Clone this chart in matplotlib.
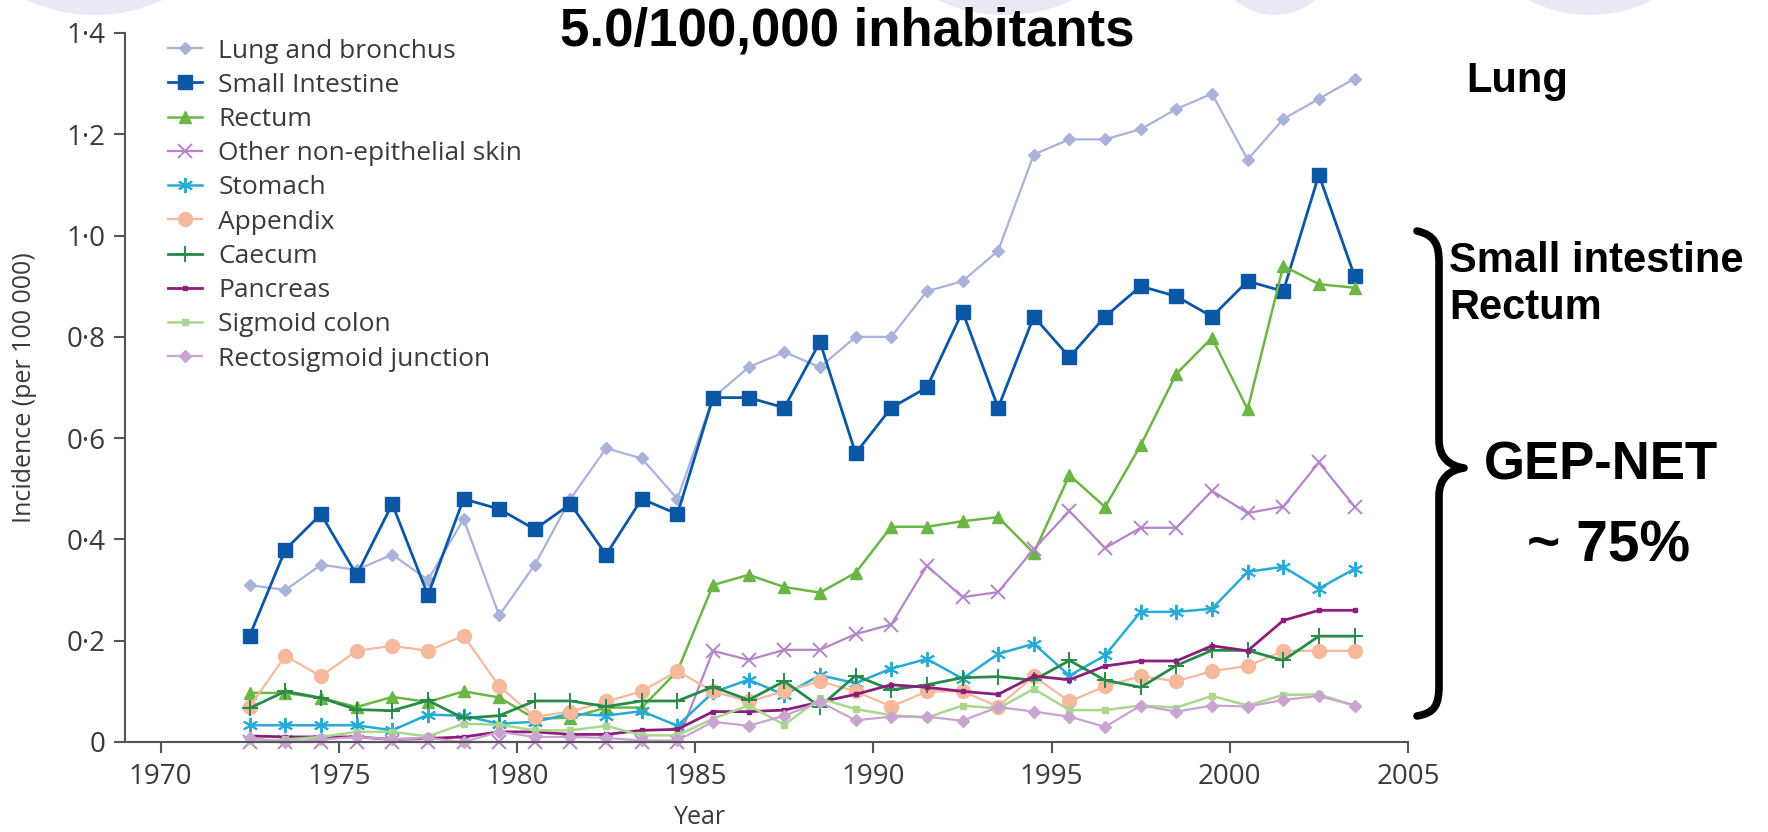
import matplotlib
matplotlib.use("Agg")
import matplotlib.pyplot as plt
from matplotlib.patches import Ellipse, PathPatch
from matplotlib.path import Path
from matplotlib.ticker import FixedLocator, FixedFormatter

# Incidence per 100 000, one value per year (plotted at mid-year)
years = [1972.5 + i for i in range(32)]

lung = [0.31, 0.30, 0.35, 0.34, 0.37, 0.32, 0.44, 0.25, 0.35, 0.48, 0.58, 0.56,
        0.48, 0.68, 0.74, 0.77, 0.74, 0.80, 0.80, 0.89, 0.91, 0.97, 1.16, 1.19,
        1.19, 1.21, 1.25, 1.28, 1.15, 1.23, 1.27, 1.31]
small_intestine = [0.21, 0.38, 0.45, 0.33, 0.47, 0.29, 0.48, 0.46, 0.42, 0.47, 0.37, 0.48,
                   0.45, 0.68, 0.68, 0.66, 0.79, 0.57, 0.66, 0.70, 0.85, 0.66, 0.84, 0.76,
                   0.84, 0.90, 0.88, 0.84, 0.91, 0.89, 1.12, 0.92]
rectum = [0.097, 0.097, 0.087, 0.069, 0.089, 0.079, 0.100, 0.088, 0.046, 0.048, 0.068, 0.068,
          0.140, 0.310, 0.330, 0.306, 0.295, 0.334, 0.425, 0.425, 0.436, 0.444, 0.373, 0.527,
          0.464, 0.586, 0.727, 0.798, 0.657, 0.940, 0.904, 0.897]
other_skin = [0.0, 0.0, 0.0, 0.0, 0.0, 0.0, 0.0, 0.0, 0.0, 0.0, 0.0, 0.0,
              0.0, 0.180, 0.162, 0.182, 0.182, 0.213, 0.232, 0.348, 0.286, 0.296, 0.381, 0.456,
              0.383, 0.423, 0.423, 0.496, 0.452, 0.465, 0.552, 0.465]
stomach = [0.033, 0.033, 0.033, 0.033, 0.023, 0.054, 0.052, 0.036, 0.040, 0.056, 0.052, 0.061,
           0.032, 0.098, 0.123, 0.093, 0.132, 0.116, 0.145, 0.164, 0.125, 0.174, 0.194, 0.131,
           0.171, 0.257, 0.257, 0.263, 0.336, 0.346, 0.303, 0.342]
appendix = [0.07, 0.17, 0.13, 0.18, 0.19, 0.18, 0.21, 0.11, 0.05, 0.06, 0.08, 0.10,
            0.14, 0.10, 0.08, 0.10, 0.12, 0.10, 0.07, 0.10, 0.10, 0.07, 0.13, 0.08,
            0.11, 0.13, 0.12, 0.14, 0.15, 0.18, 0.18, 0.18]
caecum = [0.067, 0.100, 0.087, 0.064, 0.062, 0.082, 0.047, 0.052, 0.081, 0.081, 0.070, 0.081,
          0.081, 0.109, 0.083, 0.120, 0.070, 0.131, 0.103, 0.113, 0.127, 0.129, 0.122, 0.161,
          0.122, 0.108, 0.151, 0.181, 0.181, 0.161, 0.209, 0.209]
pancreas = [0.012, 0.010, 0.010, 0.010, 0.005, 0.007, 0.010, 0.020, 0.020, 0.015, 0.015, 0.023,
            0.025, 0.060, 0.060, 0.063, 0.079, 0.094, 0.113, 0.108, 0.100, 0.094, 0.130, 0.123,
            0.150, 0.160, 0.160, 0.190, 0.180, 0.240, 0.260, 0.260]
sigmoid = [0.002, 0.005, 0.010, 0.020, 0.020, 0.011, 0.036, 0.034, 0.023, 0.023, 0.032, 0.013,
           0.013, 0.046, 0.072, 0.034, 0.086, 0.065, 0.053, 0.048, 0.072, 0.066, 0.105, 0.063,
           0.063, 0.072, 0.068, 0.091, 0.072, 0.093, 0.094, 0.072]
rectosigmoid = [0.008, 0.000, 0.005, 0.010, 0.005, 0.008, 0.000, 0.020, 0.010, 0.010, 0.008, 0.003,
                0.003, 0.040, 0.032, 0.052, 0.079, 0.043, 0.050, 0.050, 0.042, 0.069, 0.060, 0.050,
                0.030, 0.072, 0.060, 0.072, 0.070, 0.083, 0.091, 0.072]

labels = ["Lung and bronchus", "Small Intestine", "Rectum", "Other non-epithelial skin",
          "Stomach", "Appendix", "Caecum", "Pancreas", "Sigmoid colon", "Rectosigmoid junction"]
series = [lung, small_intestine, rectum, other_skin, stomach, appendix, caecum,
          pancreas, sigmoid, rectosigmoid]

y_ticks = [0, 0.2, 0.4, 0.6, 0.8, 1.0, 1.2, 1.4]
y_tick_labels = ["0", "0·2", "0·4", "0·6", "0·8", "1·0", "1·2", "1·4"]
x_ticks = [1970, 1975, 1980, 1985, 1990, 1995, 2000, 2005]

styles = [
    dict(color="#a9b2db", marker="D", ms=6, lw=1.6, mec="#a9b2db"),
    dict(color="#0b57a5", marker="s", ms=9.5, lw=2.0, mec="#0b57a5"),
    dict(color="#6bb644", marker="^", ms=8, lw=1.8, mec="#6bb644"),
    dict(color="#b584c9", marker="x", ms=10, lw=1.6, mew=1.4),
    dict(color="#28aad6", marker=(6, 2, 0), ms=11, lw=1.8, mew=1.4),
    dict(color="#f6b99c", marker="o", ms=10, lw=1.6, mec="#f6b99c"),
    dict(color="#278a48", marker="+", ms=12, lw=2.0, mew=1.4),
    dict(color="#8c1d7c", marker="s", ms=3.5, lw=2.0, mec="#8c1d7c"),
    dict(color="#a9d88c", marker="s", ms=4, lw=1.8, mec="#a9d88c"),
    dict(color="#c9a4d1", marker="D", ms=6, lw=1.6, mec="#c9a4d1"),
]

W, H = 1768, 832
fig = plt.figure(figsize=(W / 100, H / 100), dpi=100)
fig.patch.set_facecolor("white")

# faint decorative discs along the top edge
for cx, w in [(95, 250), (1005, 250), (1275, 150), (1590, 230)]:
    fig.patches.append(Ellipse((cx / W, 1 + 80 / H), w / W, 190 / H,
                               transform=fig.transFigure, facecolor="#eae8f6",
                               edgecolor="none", zorder=0))

ax = fig.add_axes([125 / W, 90 / H, (1408 - 125) / W, (742 - 33) / H])
ax.set_facecolor("none")

for vals, lab, st in zip(series, labels, styles):
    ax.plot(years, vals, label=lab, clip_on=False, **st)

ax.set_xlim(1969, 2005)
ax.set_ylim(0, 1.4)
for s in ["top", "right"]:
    ax.spines[s].set_visible(False)
for s in ["left", "bottom"]:
    ax.spines[s].set_color("#555555")
    ax.spines[s].set_linewidth(1.5)

ax.xaxis.set_major_locator(FixedLocator(x_ticks))
ax.yaxis.set_major_locator(FixedLocator(y_ticks))
ax.yaxis.set_major_formatter(FixedFormatter(y_tick_labels))
ax.tick_params(direction="out", length=8, width=1.5, color="#555555",
               labelcolor="#3a3a3a", labelsize=20)
ax.tick_params(axis="x", pad=7)
ax.tick_params(axis="y", pad=6)
for t in ax.get_xticklabels() + ax.get_yticklabels():
    t.set_fontfamily("Open Sans")

ax.set_xlabel("Year", fontsize=18, color="#3a3a3a", family="Open Sans")
ax.xaxis.set_label_coords((700 - 125) / (1408 - 125), -(817 - 742) / (742 - 33))
ax.xaxis.label.set_va("center")
ax.set_ylabel("Incidence (per 100 000)", fontsize=18, color="#3a3a3a", family="Open Sans")
ax.yaxis.set_label_coords(-(125 - 25) / (1408 - 125), 0.5)
ax.yaxis.label.set_va("center")

leg = ax.legend(loc="upper left", bbox_to_anchor=(168 / W, 1 - 38.5 / H),
                bbox_transform=fig.transFigure, frameon=False,
                prop={"family": "Open Sans", "size": 19}, labelcolor="#3a3a3a",
                handlelength=1.3, handletextpad=0.6, labelspacing=0.35,
                borderaxespad=0, borderpad=0)

bold = dict(family="Liberation Sans", weight="bold", color="black")
fig.text(847 / W, 1 - 32 / H, "5.0/100,000 inhabitants", fontsize=38,
         ha="center", va="center", **bold)
fig.text(1517 / W, 1 - 81 / H, "Lung", fontsize=30, ha="center", va="center", **bold)
fig.text(1449 / W, 1 - 261 / H, "Small intestine", fontsize=30, ha="left", va="center", **bold)
fig.text(1449 / W, 1 - 308 / H, "Rectum", fontsize=30, ha="left", va="center", **bold)
fig.text(1601 / W, 1 - 466 / H, "GEP-NET", fontsize=38, ha="center", va="center", **bold)
fig.text(1609 / W, 1 - 547 / H, "~ 75%", fontsize=41, ha="center", va="center", **bold)

# curly brace grouping the GEP-NET sites
pts_px = [
    (1417, 231), (1435, 235), (1439, 245), (1439, 262),
    (1439, 440),
    (1439, 458), (1450, 466), (1464, 468),
    (1450, 470), (1439, 478), (1439, 496),
    (1439, 685),
    (1439, 705), (1435, 713), (1417, 716),
]
codes = [Path.MOVETO, Path.CURVE4, Path.CURVE4, Path.CURVE4,
         Path.LINETO,
         Path.CURVE4, Path.CURVE4, Path.CURVE4,
         Path.CURVE4, Path.CURVE4, Path.CURVE4,
         Path.LINETO,
         Path.CURVE4, Path.CURVE4, Path.CURVE4]
brace = Path([(x / W, 1 - y / H) for x, y in pts_px], codes)
fig.patches.append(PathPatch(brace, transform=fig.transFigure, fill=False,
                             edgecolor="black", lw=5.5, capstyle="round", joinstyle="round"))

fig.savefig("out.png", dpi=100, facecolor="white")
